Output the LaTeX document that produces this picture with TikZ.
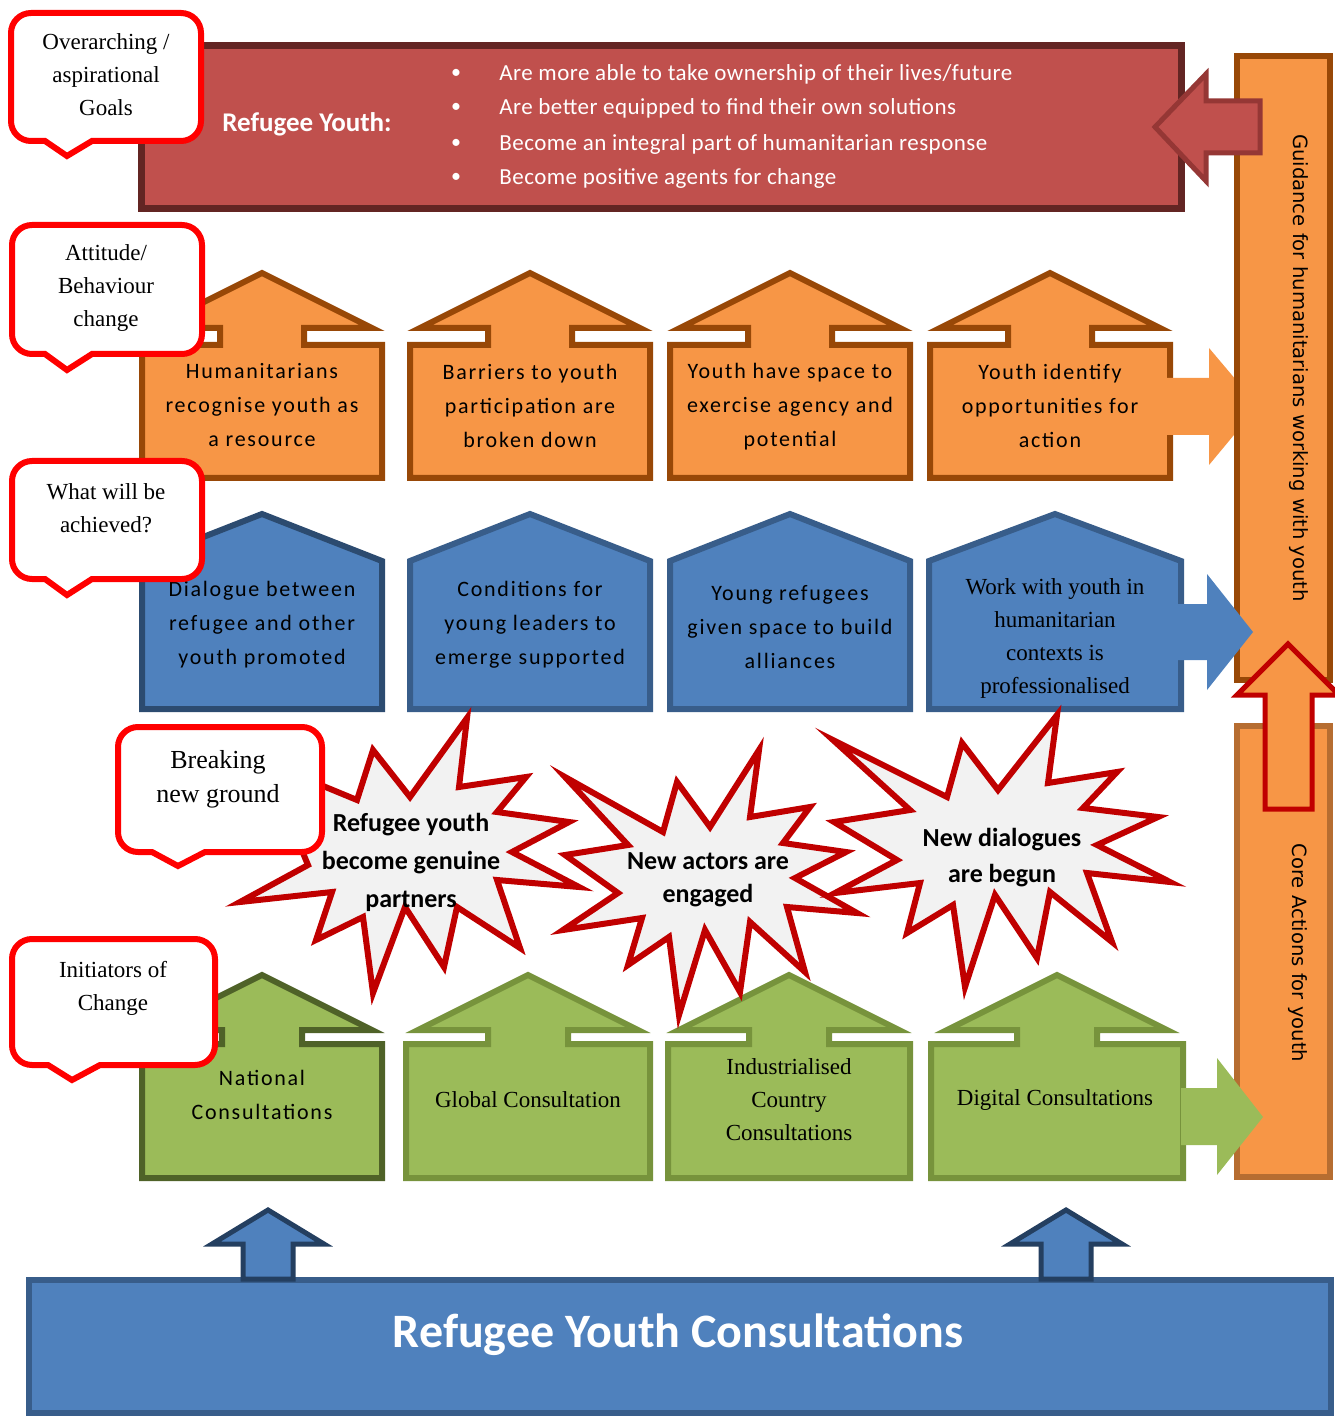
\documentclass[tikz,border=0pt]{standalone}
\usepackage{fontspec}
\usepackage{xcolor}
\setmainfont{Carlito}
\newfontfamily\spacedfont[LetterSpace=8]{Carlito}
\newfontfamily\bulletfont[LetterSpace=2]{Carlito}
\newfontfamily\timesfont{Liberation Serif}
\newfontfamily\sidefont{DejaVu Sans}

\definecolor{goalred}{HTML}{C0504D}
\definecolor{goaldark}{HTML}{632523}
\definecolor{arrowred}{HTML}{953735}
\definecolor{attorange}{HTML}{F79646}
\definecolor{attbrown}{HTML}{984807}
\definecolor{corebrown}{HTML}{B66D31}
\definecolor{achblue}{HTML}{4F81BD}
\definecolor{achborder}{HTML}{385D8A}
\definecolor{achdark}{HTML}{2C4B70}
\definecolor{navy}{HTML}{243F60}
\definecolor{initgreen}{HTML}{9BBB59}
\definecolor{initborder}{HTML}{77933C}
\definecolor{initdark}{HTML}{4F6228}
\definecolor{burstred}{HTML}{C00000}
\definecolor{burstgrey}{HTML}{F2F2F2}

\begin{document}
\begin{tikzpicture}[x=0.5pt, y=-0.5pt,
	goalbox/.style={draw=goaldark, fill=goalred, line width=3.5pt},
	attbox/.style={draw=attbrown, fill=attorange, line width=3pt},
	achbox/.style={draw=achborder, fill=achblue, line width=3pt},
	initbox/.style={draw=initborder, fill=initgreen, line width=3pt},
	burst/.style={draw=burstred, fill=burstgrey, line width=3pt, line join=miter},
	callout/.style={draw=red, fill=white, line width=3pt},
	sidebar/.style={draw=attbrown, fill=attorange, line width=3pt},
	sidetext/.style={rotate=-90, font=\sidefont\fontsize{9.8}{11}\selectfont},
	spaced/.style={align=center, font=\spacedfont\fontsize{11}{17}\selectfont},
	serif/.style={align=center, font=\timesfont\fontsize{11.5}{16.5}\selectfont},
	bursttext/.style={align=center, font=\bfseries\fontsize{13}{19}\selectfont},
	bullettext/.style={anchor=west, inner sep=0pt, text=white, font=\bulletfont\fontsize{11.5}{13}\selectfont}]
	\useasboundingbox (0,0) rectangle (1334,1416);

	% top goal box
	\draw[goalbox] (141,46) rectangle (1181,209);
	\node[text=white, font=\bfseries\fontsize{13.5}{15}\selectfont] (goaltitle) at (307,124) {Refugee Youth:};
	\foreach \y/\t [count=\i] in {74/{Are more able to take ownership of their lives/future},
		108/{Are better equipped to find their own solutions},
		144/{Become an integral part of humanitarian response},
		178/{Become positive agents for change}}{
		\node[text=white, font=\fontsize{10}{12}\selectfont] (dot\i) at (456,\y) {\textbullet};
		\node[bullettext] (goal\i) at (499,\y) {\t};
	}

	% orange row
	\foreach \cx/\hw in {262/120, 530/120, 790/120, 1050/120}{
		\draw[attbox] (\cx-\hw,478) -- (\cx-\hw,345) -- (\cx-42,345) -- (\cx-42,328) -- (\cx-110,328) -- (\cx,273)
			-- (\cx+110,328) -- (\cx+42,328) -- (\cx+42,345) -- (\cx+\hw,345) -- (\cx+\hw,478) -- cycle;
	}
	\fill[attorange] (1166,378) -- (1209,378) -- (1209,348) -- (1258,406) -- (1209,465) -- (1209,435) -- (1166,435) -- cycle;
	\node[spaced] (att1) at (262,405) {Humanitarians\\recognise youth as\\a resource};
	\node[spaced] (att2) at (530,406) {Barriers to youth\\participation are\\broken down};
	\node[spaced] (att3) at (790,407) {Youth have space to\\exercise agency and\\potential};
	\node[spaced] (att4) at (1050,406) {Youth identify\\opportunities for\\action};

	% blue row
	\foreach \cx/\hw/\col in {262/120/achdark, 530/120/achborder, 790/120/achborder, 1055/126/achborder}{
		\draw[achbox, draw=\col] (\cx-\hw,709) -- (\cx-\hw,561) -- (\cx,514) -- (\cx+\hw,561) -- (\cx+\hw,709) -- cycle;
	}
	\node[spaced] (ach1) at (262,625) {Dialogue between\\refugee and other\\youth promoted};
	\node[spaced] (ach2) at (530,625) {Conditions for\\young leaders to\\emerge supported};
	\node[spaced] (ach3) at (790,627) {Young refugees\\given space to build\\alliances};
	\node[serif] (ach4) at (1055,638) {Work with youth in\\humanitarian\\contexts is\\professionalised};

	% green row
	\foreach \cx/\hw/\col in {262/120/initdark, 528/122/initborder, 789/121/initborder, 1057/126/initborder}{
		\draw[initbox, draw=\col] (\cx-\hw,1178) -- (\cx-\hw,1044) -- (\cx-40,1044) -- (\cx-40,1030) -- (\cx-110,1030) -- (\cx,975)
			-- (\cx+110,1030) -- (\cx+40,1030) -- (\cx+40,1044) -- (\cx+\hw,1044) -- (\cx+\hw,1178) -- cycle;
	}
	\node[spaced] (init1) at (262,1095) {National\\Consultations};
	\node[serif] (init2) at (528,1100) {Global Consultation};
	\node[serif] (init3) at (789,1100) {Industrialised\\Country\\Consultations};
	\node[serif] (init4) at (1055,1100) {Digital Consultations};

	% side bars
	\draw[sidebar] (1237,56) rectangle (1330,680);
	\draw[sidebar, draw=corebrown] (1237,726) rectangle (1330,1177);
	\node[sidetext] (guide) at (1299,368) {Guidance for humanitarians working with youth};
	\node[sidetext] (core) at (1298,953) {Core Actions for youth};

	\fill[achblue] (1178,604) -- (1207,604) -- (1207,574) -- (1253,632) -- (1207,690) -- (1207,660) -- (1178,660) -- cycle;
	\fill[initgreen] (1181,1088) -- (1217,1088) -- (1217,1058) -- (1263,1117) -- (1217,1175) -- (1217,1145) -- (1181,1145) -- cycle;
	\draw[draw=burstred, fill=attorange, line width=2.5pt] (1265,809) -- (1265,695) -- (1237,695) -- (1288,644)
		-- (1339,695) -- (1312,695) -- (1312,809) -- cycle;
	\draw[draw=arrowred, fill=goalred, line width=2.5pt] (1260,101) -- (1206,101) -- (1206,74) -- (1155,127)
		-- (1206,181) -- (1206,153) -- (1260,153) -- cycle;

	% bursts
	\draw[burst] (467,718) -- (459,787) -- (526,777) -- (497,812) -- (569,822) -- (512,852) -- (579,887) -- (497,880)
		-- (520,948) -- (457,907) -- (444,967) -- (405,907) -- (373,993) -- (363,917) -- (316,940) -- (332,892)
		-- (240,902) -- (308,865) -- (265,762) -- (357,800) -- (373,750) -- (410,797) -- cycle;
	\draw[burst] (759,750) -- (750,817) -- (810,807) -- (783,843) -- (846,852) -- (795,878) -- (857,913) -- (787,907)
		-- (805,972) -- (750,922) -- (740,992) -- (705,930) -- (679,1015) -- (669,937) -- (628,965) -- (642,918)
		-- (563,930) -- (618,893) -- (565,855) -- (628,845) -- (565,777) -- (663,832) -- (677,782) -- (710,827) -- cycle;
	\draw[burst] (833,740) -- (947,797) -- (962,743) -- (998,790) -- (1057,715) -- (1048,783) -- (1117,772) -- (1083,808)
		-- (1158,817) -- (1097,845) -- (1170,882) -- (1087,873) -- (1112,942) -- (1050,892) -- (1037,958) -- (995,895)
		-- (965,987) -- (953,905) -- (907,933) -- (920,883) -- (835,893) -- (897,860) -- (834,822) -- (910,810) -- cycle;
	\node[bursttext] (new1) at (411,862) {Refugee youth\\become genuine\\partners};
	\node[bursttext, font=\bfseries\fontsize{13}{16.5}\selectfont] (new2) at (708,880) {New actors are\\engaged};
	\node[bursttext, font=\bfseries\fontsize{13}{18}\selectfont] (new3) at (1002,858) {New dialogues\\are begun};

	% callouts
	\foreach \xa/\ya/\xb/\yb/\pl/\tx/\ty/\pr in {11/13/201/141/45/67/156/92, 12/225/202/354/45/67/370/92,
		12/461/202/579/45/67/595/92, 118/727/322/852/152/178/866/205, 12/939/215/1065/48/72/1080/100}{
		\draw[callout] (\tx,\ty) -- (\pr,\yb) [rounded corners=10pt] -- (\xb,\yb) -- (\xb,\ya) -- (\xa,\ya) -- (\xa,\yb)
			[sharp corners] -- (\pl,\yb) -- cycle;
	}
	\node[serif] (lvl1) at (106,75) {Overarching /\\aspirational\\Goals};
	\node[serif] (lvl2) at (106,288) {Attitude/\\Behaviour\\change};
	\node[serif] (lvl3) at (106,508) {What will be\\achieved?};
	\node[serif, font=\timesfont\fontsize{13}{17}\selectfont] (lvl4) at (218,779) {Breaking\\new ground};
	\node[serif] (lvl5) at (113,988) {Initiators of\\Change};

	% bottom bar
	\draw[achbox] (29,1280) rectangle (1331,1413);
	\node[text=white, font=\bfseries\fontsize{24}{26}\selectfont] (base) at (678,1335) {Refugee Youth Consultations};
	\foreach \cx in {268, 1066}{
		\draw[draw=navy, fill=achblue, line width=2.5pt] (\cx-25,1279) -- (\cx-25,1244) -- (\cx-56,1244) -- (\cx,1210)
			-- (\cx+56,1244) -- (\cx+25,1244) -- (\cx+25,1279) -- cycle;
	}
\end{tikzpicture}
\end{document}
